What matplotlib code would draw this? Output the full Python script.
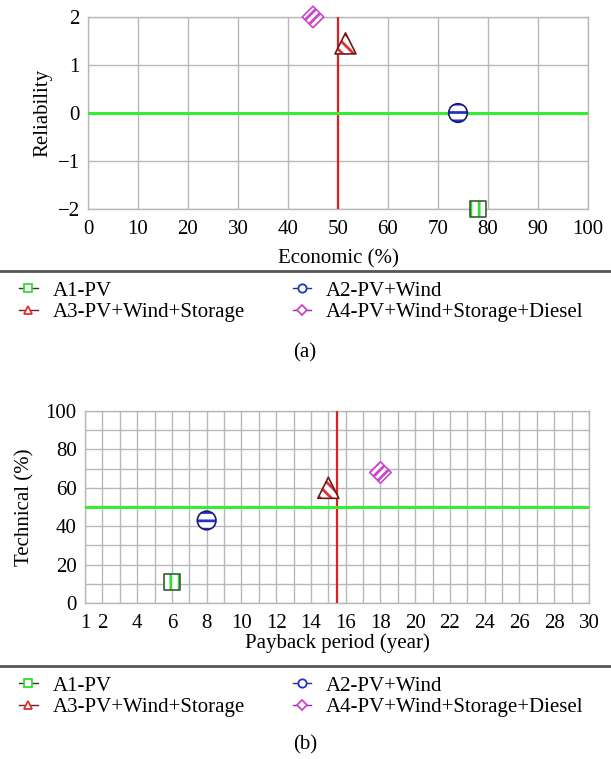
import matplotlib
matplotlib.use("Agg")
import matplotlib.pyplot as plt
from matplotlib.lines import Line2D
import numpy as np

plt.rcParams['font.family'] = ['Liberation Serif', 'DejaVu Serif']
plt.rcParams['hatch.linewidth'] = 2.0

# ---- data ----
labels = ["A1-PV", "A2-PV+Wind", "A3-PV+Wind+Storage", "A4-PV+Wind+Storage+Diesel"]
economic = [78, 74, 51.5, 45]
reliability = [-2, 0, 1.45, 2]
payback = [6, 8, 15, 18]
technical = [11, 43, 60, 68]

econ_ticks = list(range(0, 101, 10))
rel_ticks = [-2, -1, 0, 1, 2]
pay_ticks = [1] + list(range(2, 31, 2))
tech_ticks = list(range(0, 101, 20))

# ---- styles ----
markers = ['s', 'o', '^', 'D']
edgecols = ['#3a5a3a', '#1a1a70', '#6b1a1a', '#cc44cc']
hatchcols = ['#33dd33', '#2233cc', '#dd3333', '#cc44cc']
hatches = ['||', '--', '\\\\\\', '////']
sizes = [140, 180, 230, 120]
legend_line = ['#333333', '#333366', '#7a1f1f', '#7a3a9a']

W, H = 611, 759
fig = plt.figure(figsize=(W / 100, H / 100), dpi=100)


def ax_px(l, t, r, b):
    return fig.add_axes([l / W, 1 - b / H, (r - l) / W, (b - t) / H])


FT = 15   # tick labels
FL = 15   # axis labels
FG = 15   # legend / captions
grid_c = '#b8b8b8'


def style(ax):
    for s in ax.spines.values():
        s.set_color(grid_c)
        s.set_linewidth(1)
    ax.tick_params(length=0, labelsize=FT)
    ax.tick_params(axis='x', pad=8)
    ax.tick_params(axis='y', pad=6)
    ax.set_axisbelow(True)


def draw_points(ax, xs, ys):
    for i in range(4):
        ax.scatter(xs[i], ys[i], s=sizes[i], marker=markers[i], facecolor='white',
                   edgecolor=hatchcols[i], hatch=hatches[i], linewidth=0, zorder=5,
                   clip_on=False)
        ax.scatter(xs[i], ys[i], s=sizes[i], marker=markers[i], facecolor='none',
                   edgecolor=edgecols[i], linewidth=1.2, zorder=6, clip_on=False)


# ---- panel (a) ----
ax1 = ax_px(88, 17, 588, 209)
style(ax1)
ax1.set_xlim(0, 100)
ax1.set_ylim(-2, 2)
ax1.set_xticks(econ_ticks)
ax1.set_yticks(rel_ticks)
ax1.set_yticklabels(['\u22122', '\u22121', '0', '1', '2'])
ax1.grid(True, color=grid_c, linewidth=1)
ax1.axvline(50, color='#e02020', linewidth=1.6, zorder=3)
ax1.axhline(0, color='#33ee33', linewidth=2.2, zorder=3)
draw_points(ax1, economic, reliability)
ax1.set_xlabel("Economic (%)", fontsize=FL, labelpad=7)
ax1.set_ylabel("Reliability", fontsize=FL, labelpad=4)

# ---- panel (b) ----
ax2 = ax_px(85, 411, 589, 603)
style(ax2)
ax2.set_xlim(1, 30)
ax2.set_ylim(0, 100)
ax2.set_xticks(pay_ticks)
ax2.set_xticks(list(range(1, 31)), minor=True)
ax2.set_yticks(tech_ticks)
ax2.set_yticks(list(range(0, 101, 10)), minor=True)
ax2.tick_params(which='minor', length=0)
ax2.grid(True, which='both', color=grid_c, linewidth=1)
ax2.axvline(15.5, color='#e02020', linewidth=1.6, zorder=3)
ax2.axhline(50, color='#33ee33', linewidth=2.2, zorder=3)
draw_points(ax2, payback, technical)
ax2.set_xlabel("Payback period (year)", fontsize=FL, labelpad=0)
ax2.set_ylabel("Technical (%)", fontsize=FL, labelpad=8)

# ---- separators, legends, captions ----
for ysep in (271, 666):
    fig.add_artist(Line2D([0, 1], [1 - ysep / H, 1 - ysep / H], transform=fig.transFigure,
                          color='#555555', linewidth=2))

handles = []
for i in range(4):
    handles.append(Line2D([0], [0], color=legend_line[i], linewidth=1,
                          marker=markers[i], markersize=6 if i != 3 else 5,
                          markerfacecolor='white', markeredgecolor=hatchcols[i],
                          markeredgewidth=1.3, label=labels[i]))
order = [0, 2, 1, 3]
for ytop in (281, 676):
    fig.legend([handles[k] for k in order], [labels[k] for k in order],
               loc='upper left', bbox_to_anchor=(19 / W, 1 - ytop / H), ncol=2,
               frameon=False, fontsize=FG, handlelength=0.9, handletextpad=0.7,
               columnspacing=2.3, labelspacing=0.1, borderaxespad=0, borderpad=0)

fig.text(305 / W, 1 - 353 / H, "(a)", ha='center', va='center', fontsize=FG)
fig.text(305 / W, 1 - 745 / H, "(b)", ha='center', va='center', fontsize=FG)

fig.savefig("out.png", dpi=100)
